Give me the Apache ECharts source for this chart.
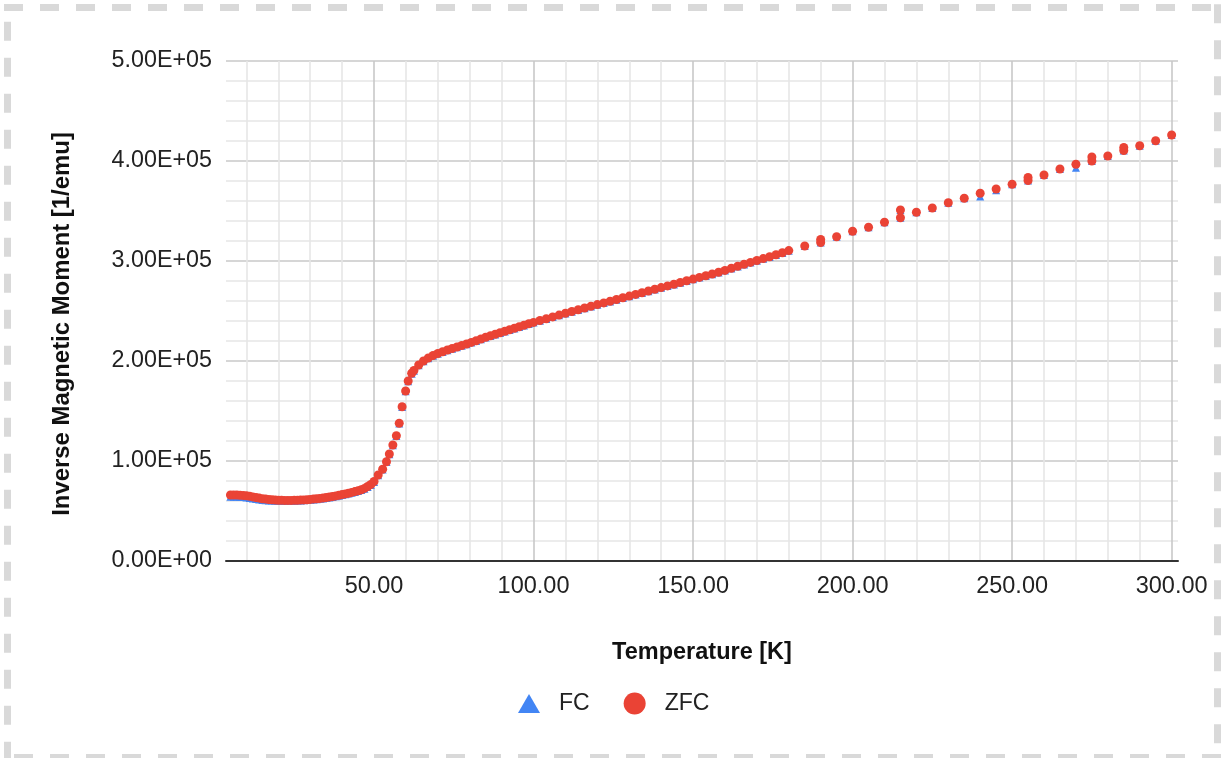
<!DOCTYPE html>
<html>
<head>
<meta charset="utf-8">
<title>Inverse Magnetic Moment vs Temperature</title>
<script src="https://cdn.jsdelivr.net/npm/echarts@6/dist/echarts.min.js"></script>
<style>
  html, body { margin: 0; padding: 0; background: #ffffff; }
  #chart { width: 1223px; height: 758px; }
</style>
</head>
<body>
<div id="chart"></div>
<script>
// Measurement temperatures [K]
const temperature = [
  5, 6, 7, 8, 9, 10, 11, 12, 13, 14, 15, 16, 17, 18, 19, 20,
  21, 22, 23, 24, 25, 26, 27, 28, 29, 30, 31, 32, 33, 34, 35,
  36, 37, 38, 39, 40, 41, 42, 43, 44, 45, 46, 47, 48, 49, 50,
  51.3, 52.7, 53.9, 54.8, 55.9, 57.0, 57.9, 58.8, 59.9, 60.7, 61.8,
  62.5, 64, 65.5, 67, 68.5, 70, 71.5, 73, 74.5, 76, 77.5, 79, 80.5,
  82, 83.5, 85, 86.5, 88, 89.5, 91, 92.5, 94, 95.5, 97, 98.5, 100,
  102, 104, 106, 108, 110, 112, 114, 116, 118, 120, 122, 124, 126,
  128, 130, 132, 134, 136, 138, 140, 142, 144, 146, 148, 150, 152,
  154, 156, 158, 160, 162, 164, 166, 168, 170, 172, 174, 176, 178, 180,
  185, 190, 190, 195, 200, 205, 210, 215, 215, 220, 225, 230, 235,
  240, 245, 250, 255, 255, 260, 265, 270, 275, 275, 280, 285, 285,
  290, 295, 300
];

// Zero-field-cooled inverse moment [1/emu]
const zfcMoment = [
  66000, 66000, 66000, 65800, 65600, 65200, 64700, 64100, 63500, 62900, 62300, 61900, 61500, 61200, 61000, 60800,
  60700, 60600, 60600, 60600, 60700, 60800, 60900, 61100, 61300, 61600, 61900, 62200, 62600, 63000, 63500,
  64000, 64500, 65100, 65700, 66400, 67100, 67800, 68600, 69400, 70300, 71300, 72600, 74500, 76500, 79500,
  86000, 91700, 99300, 107000, 116000, 125300, 137700, 154300, 170000, 180000, 187700,
  190500, 196000, 200000, 203000, 205500, 207500, 209200, 211000, 212500, 214000, 215500, 217000, 218600,
  220200, 222000, 223800, 225300, 226800, 228300, 229800, 231300, 232800, 234300, 235800, 237200, 238600,
  240500, 242300, 244100, 245900, 247700, 249500, 251200, 253000, 254700, 256400, 258100, 259800, 261500,
  263200, 264900, 266600, 268300, 270000, 271700, 273400, 275100, 276800, 278500, 280200, 281900, 283600,
  285300, 287000, 288700, 290600, 292800, 294800, 296700, 298600, 300500, 302400, 304300, 306300, 308300, 310400,
  315000, 318500, 321500, 324300, 329700, 333700, 338700, 343300, 351000, 348700, 353000, 358300, 362700,
  367700, 372000, 376700, 380500, 383500, 386000, 392000, 396700, 400000, 404000, 405000, 410500, 413500,
  415300, 420300, 426000
];

// Field-cooled inverse moment [1/emu]
const fcMoment = [
  64300, 64300, 64300, 64100, 63900, 63600, 63100, 62600, 62100, 61600, 61100, 60800, 60600, 60400, 60300, 60200,
  60200, 60100, 60200, 60200, 60300, 60400, 60500, 60700, 60900, 61200, 61500, 61800, 62200, 62600, 63100,
  63600, 64100, 64700, 65300, 66000, 66700, 67400, 68200, 69000, 69900, 70900, 72200, 74100, 76100, 79100,
  85700, 91400, 99000, 106700, 115700, 125000, 137400, 154000, 169700, 179700, 187300,
  190300, 195800, 199800, 202800, 205300, 207300, 209000, 210800, 212300, 213800, 215300, 216800, 218400,
  220000, 221800, 223600, 225100, 226600, 228100, 229600, 231100, 232600, 234100, 235600, 237000, 238400,
  240300, 242100, 243900, 245700, 247500, 249300, 251000, 252800, 254500, 256200, 257900, 259600, 261300,
  263000, 264700, 266400, 268100, 269800, 271500, 273200, 274900, 276600, 278300, 280000, 281700, 283400,
  285100, 286800, 288500, 290400, 292600, 294600, 296500, 298400, 300300, 302200, 304100, 306100, 308100, 310200,
  315000, 318500, 321500, 324300, 329700, 333700, 338700, 343300, 351000, 348700, 353000, 358300, 362700,
  364500, 370800, 376700, 380500, 383500, 386000, 392000, 393200, 400000, 404000, 405000, 410500, 413500,
  415300, 420300, 426000
];

// Axis tick labels
const yTickLabels = ['0.00E+00', '1.00E+05', '2.00E+05', '3.00E+05', '4.00E+05', '5.00E+05'];
const xTickLabels = ['50.00', '100.00', '150.00', '200.00', '250.00', '300.00'];

const fcPoints = temperature.map((t, i) => [t, fcMoment[i]]);
const zfcPoints = temperature.map((t, i) => [t, zfcMoment[i]]);

const chart = echarts.init(document.getElementById('chart'), null, { renderer: 'canvas' });

const borderStyle = { stroke: '#d9d9d9', lineWidth: 7, lineDash: [19, 17] };

chart.setOption({
  backgroundColor: '#ffffff',
  animation: false,
  textStyle: { fontFamily: 'Arial, "Liberation Sans", sans-serif' },
  graphic: [
    { type: 'line', silent: true, shape: { x1: 4, y1: 7.5, x2: 1223, y2: 7.5 }, style: borderStyle },
    { type: 'line', silent: true, shape: { x1: 1217.5, y1: 4.3, x2: 1217.5, y2: 758 }, style: borderStyle },
    { type: 'line', silent: true, shape: { x1: 14, y1: 757.5, x2: 1223, y2: 757.5 }, style: borderStyle },
    { type: 'line', silent: true, shape: { x1: 7.5, y1: 21.7, x2: 7.5, y2: 758 }, style: borderStyle }
  ],
  grid: { left: 226, right: 45, top: 61, bottom: 197, outerBoundsMode: 'none' },
  legend: {
    left: 513,
    top: 687,
    itemWidth: 22,
    itemHeight: 22,
    itemGap: 34,
    selectedMode: false,
    textStyle: { fontSize: 23, color: '#222222', padding: [0, 0, 0, 14] },
    data: [
      { name: 'FC', icon: 'path://M0,18L10.5,0L21,18Z' },
      { name: 'ZFC', icon: 'circle' }
    ]
  },
  xAxis: {
    type: 'value',
    min: 3.6,
    max: 302,
    name: 'Temperature [K]',
    nameLocation: 'middle',
    nameGap: 80,
    nameTextStyle: { fontSize: 23.5, fontWeight: 'bold', color: '#111111' },
    axisLine: { show: true, onZero: false, lineStyle: { color: '#333333', width: 2 } },
    axisTick: { show: false },
    axisLabel: {
      show: true,
      margin: 14,
      fontSize: 23.5,
      color: '#222222',
      showMinLabel: false,
      showMaxLabel: false,
      formatter: function (v) {
        const k = Math.round(v / 50);
        return (Math.abs(v - k * 50) < 1e-6 && k >= 1) ? xTickLabels[k - 1] : '';
      }
    },
    splitLine: { show: true, showMinLine: false, showMaxLine: false, lineStyle: { color: '#c8c8c8', width: 1.6 } },
    minorTick: { show: false, splitNumber: 5 },
    minorSplitLine: { show: true, lineStyle: { color: '#e6e6e6', width: 1.6 } }
  },
  yAxis: {
    type: 'value',
    min: 0,
    max: 500000,
    interval: 100000,
    name: 'Inverse Magnetic Moment [1/emu]',
    nameLocation: 'middle',
    nameGap: 152,
    nameTextStyle: { fontSize: 23.9, fontWeight: 'bold', color: '#111111', padding: [0, 26, 0, 0] },
    axisLine: { show: false },
    axisTick: { show: false },
    axisLabel: {
      margin: 14,
      fontSize: 23.3,
      color: '#222222',
      formatter: function (v) {
        return yTickLabels[Math.round(v / 100000)];
      }
    },
    splitLine: { show: true, lineStyle: { color: '#c8c8c8', width: 1.6 } },
    minorTick: { show: false, splitNumber: 5 },
    minorSplitLine: { show: true, lineStyle: { color: '#e6e6e6', width: 1.6 } }
  },
  series: [
    {
      name: 'FC',
      type: 'scatter',
      symbol: 'triangle',
      symbolSize: 8,
      itemStyle: { color: '#4285f4', opacity: 1 },
      emphasis: { disabled: true },
      data: fcPoints
    },
    {
      name: 'ZFC',
      type: 'scatter',
      symbol: 'circle',
      symbolSize: 9,
      itemStyle: { color: '#ea4335', opacity: 1 },
      emphasis: { disabled: true },
      data: zfcPoints
    }
  ]
});
</script>
</body>
</html>
